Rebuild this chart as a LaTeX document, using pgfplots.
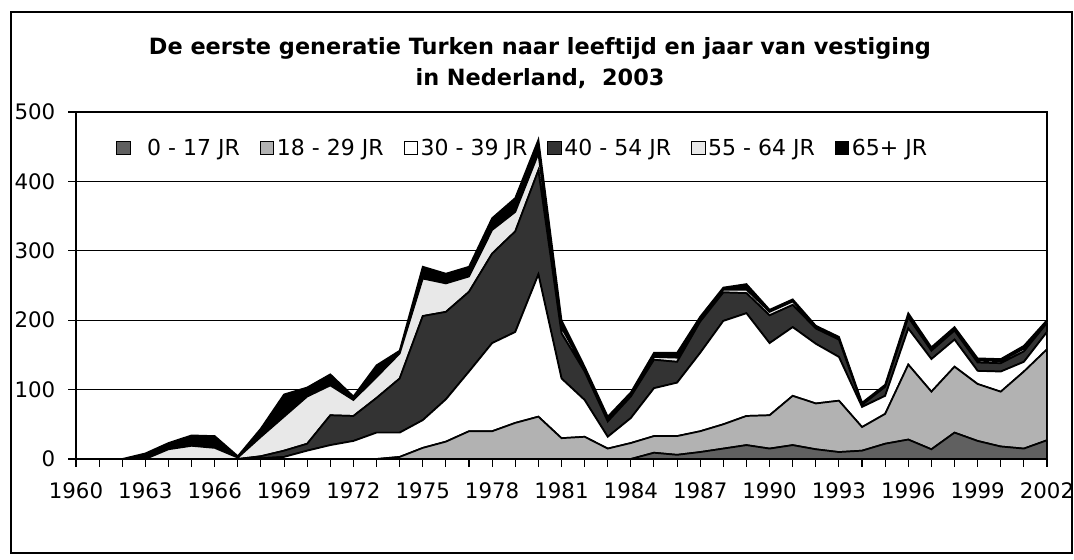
\documentclass[border=0pt]{standalone}
\usepackage{fontspec}
\setmainfont{DejaVu Sans}
\usepackage{pgfplots}
\usepackage{pgfplotstable}
\pgfplotsset{compat=1.18}

\definecolor{ageA}{RGB}{96,96,96}
\definecolor{ageB}{RGB}{178,178,178}
\definecolor{ageC}{RGB}{255,255,255}
\definecolor{ageD}{RGB}{51,51,51}
\definecolor{ageE}{RGB}{232,232,232}
\definecolor{ageF}{RGB}{0,0,0}

% year, 0-17, 18-29, 30-39, 40-54, 55-64, 65+
\pgfplotstableread{
year a b c d e f
1960 0 0 0 0 0 0
1961 0 0 0 0 0 0
1962 0 0 0 0 0 0
1963 0 0 0 0 0 8
1964 0 0 0 0 14 9
1965 0 0 0 0 19 15
1966 0 0 0 0 16 17
1967 0 0 0 0 2 2
1968 0 0 1 3 28 12
1969 0 0 3 9 49 32
1970 0 0 12 10 68 13
1971 0 0 20 43 43 16
1972 0 0 26 36 23 5
1973 0 0 38 50 30 17
1974 0 3 35 78 36 4
1975 0 16 40 150 54 17
1976 0 25 61 126 41 14
1977 0 40 86 115 22 14
1978 0 40 127 129 34 17
1979 0 52 131 145 28 20
1980 0 61 205 150 24 20
1981 0 30 86 65 8 11
1982 0 32 53 41 4 3
1983 0 15 17 22 3 4
1984 0 23 36 31 3 3
1985 9 24 69 41 4 6
1986 6 27 77 30 6 7
1987 10 30 113 45 2 5
1988 15 35 149 41 4 3
1989 20 42 148 29 5 8
1990 15 48 104 40 5 3
1991 20 71 99 32 5 3
1992 14 66 86 22 2 2
1993 10 74 63 25 2 2
1994 12 34 29 3 1 2
1995 22 43 26 13 1 2
1996 28 108 52 16 3 3
1997 14 83 47 12 2 3
1998 38 95 39 13 2 3
1999 26 82 19 12 3 3
2000 18 79 29 12 3 3
2001 15 111 14 15 4 4
2002 27 131 25 13 2 2
}\turken

\newcommand\tickfont{\fontsize{16}{19}\selectfont}

\begin{document}
\begin{tikzpicture}
% canvas of the reference (1 px = 0.75pt), axis origin at px (76,459)
\useasboundingbox (-57pt,-75.75pt) rectangle (748.5pt,344.25pt);
\draw[line width=0.8pt] (-48.75pt,-70.5pt) rectangle (747pt,335.25pt);

\begin{axis}[
  at={(0pt,0pt)}, anchor=south west,
  scale only axis, width=728.25pt, height=260.25pt,
  xmin=1960, xmax=2002, ymin=0, ymax=500,
  xtick={1960,1963,...,2002},
  minor xtick={1960,...,2002},
  ytick={0,100,...,500},
  ymajorgrids, grid style={black, line width=0.8pt},
  axis line style={line width=1pt},
  tick align=outside, tick pos=left,
  major tick length=6pt, minor tick length=6pt,
  every tick/.style={black, line width=0.8pt},
  minor tick style={black, line width=0.8pt},
  /pgf/number format/assume math mode=true,
  xticklabel style={/pgf/number format/1000 sep={}, yshift=-8pt},
  yticklabel style={xshift=-6pt},
  ticklabel style={font=\tickfont},
  stack plots=y,
  legend style={draw=none, fill=none, at={(rel axis cs:0.037,0.896)},
    anchor=west, font=\fontsize{16.5}{19}\selectfont, legend columns=-1,
    /tikz/every even column/.append style={column sep=13pt}},
  legend image code/.code={\draw[#1, line width=0.8pt] (0pt,-5pt) rectangle (10pt,5pt);},
]
\addplot[fill=ageA, draw=black, line width=1.3pt] table[x=year,y=a]{\turken} \closedcycle;
\addplot[fill=ageB, draw=black, line width=1.3pt] table[x=year,y=b]{\turken} \closedcycle;
\addplot[fill=ageC, draw=black, line width=1.3pt] table[x=year,y=c]{\turken} \closedcycle;
\addplot[fill=ageD, draw=black, line width=1.3pt] table[x=year,y=d]{\turken} \closedcycle;
\addplot[fill=ageE, draw=black, line width=1.3pt] table[x=year,y=e]{\turken} \closedcycle;
\addplot[fill=ageF, draw=black, line width=1.3pt] table[x=year,y=f]{\turken} \closedcycle;
\legend{\ \ 0 - 17 JR, 18 - 29 JR, 30 - 39 JR, 40 - 54 JR, 55 - 64 JR, 65+ JR}
\end{axis}

\node[font=\bfseries\fontsize{16.8}{19}\selectfont, align=center] at (348pt,297pt)
  {De eerste generatie Turken naar leeftijd en jaar van vestiging\\[4pt]in Nederland,\ \ 2003};
\end{tikzpicture}
\end{document}
